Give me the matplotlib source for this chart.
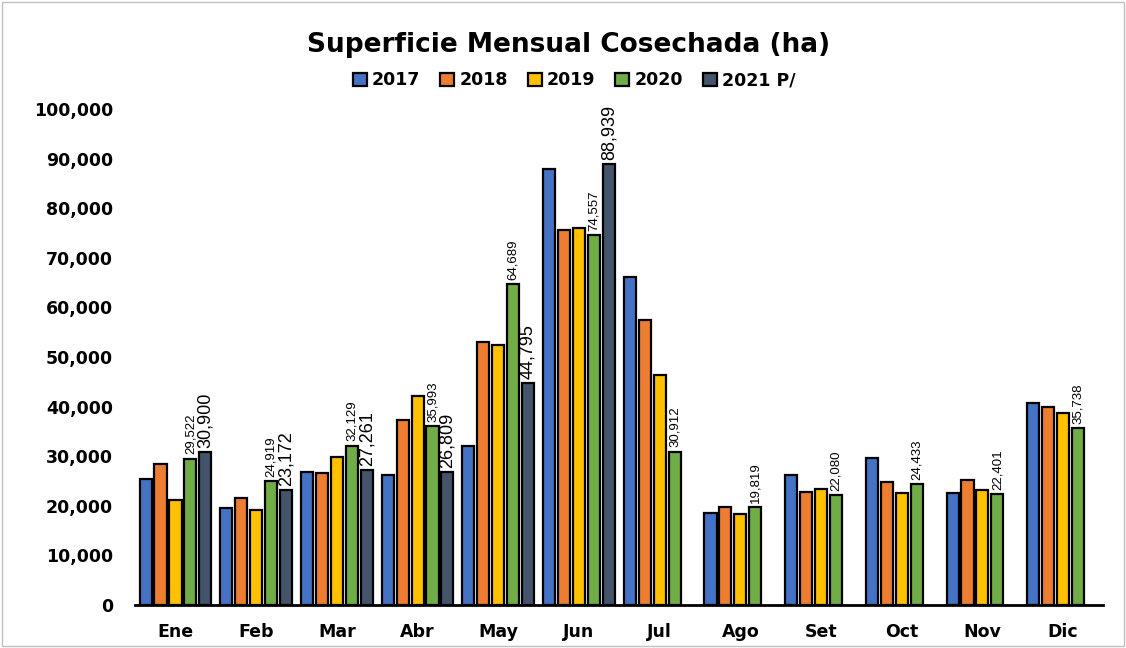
import numpy as np
import matplotlib
matplotlib.use("Agg")
import matplotlib.pyplot as plt
from matplotlib.patches import Rectangle
from matplotlib.ticker import FuncFormatter

months = ['Ene', 'Feb', 'Mar', 'Abr', 'May', 'Jun', 'Jul', 'Ago', 'Set', 'Oct', 'Nov', 'Dic']
years = ['2017', '2018', '2019', '2020', '2021 P/']
colors = ['#4472C4', '#ED7D31', '#FFC000', '#70AD47', '#44546A']

v2017 = [25350, 19600, 26870, 26220, 31980, 88000, 66090, 18580, 26180, 29700, 22650, 40660]
v2018 = [28450, 21610, 26650, 37240, 52940, 75700, 57400, 19740, 22780, 24800, 25270, 39850]
v2019 = [21180, 19090, 29820, 42140, 52510, 76000, 46350, 18370, 23350, 22650, 23250, 38710]
v2020 = [29522, 24919, 32129, 35993, 64689, 74557, 30912, 19819, 22080, 24433, 22401, 35738]
v2021 = [30900, 23172, 27261, 26809, 44795, 88939, np.nan, np.nan, np.nan, np.nan, np.nan, np.nan]

series = [v2017, v2018, v2019, v2020, v2021]
label_font = ['Liberation Sans', 'DejaVu Sans']

fig = plt.figure(figsize=(11.26, 6.48), dpi=100)
ax = fig.add_axes([0.12, 0.0664, 0.86, 0.7654])

x = np.arange(len(months))
w = 0.185
for i, (vals, c, lab) in enumerate(zip(series, colors, years)):
    pos = x + (i - 2) * w
    ax.bar(pos, vals, width=0.15, color=c, edgecolor='black', linewidth=1.6, label=lab)
    if i == 3:
        for p, v in zip(pos, vals):
            ax.annotate(f'{v:,}', (p, v), xytext=(0, 3), textcoords='offset points',
                        rotation=90, ha='center', va='bottom', fontsize=9.5, family=label_font)
    if i == 4:
        for p, v in zip(pos, vals):
            if np.isnan(v):
                continue
            ax.annotate(f'{int(v):,}', (p, v), xytext=(0, 3), textcoords='offset points',
                        rotation=90, ha='center', va='bottom', fontsize=13, family=label_font)

ax.set_xlim(-0.5, 11.5)
ax.set_ylim(0, 100000)
ax.set_yticks(np.arange(0, 100001, 10000))
ax.yaxis.set_major_formatter(FuncFormatter(lambda v, p: f'{int(v):,}'))
ax.set_xticks(x)
ax.set_xticklabels(months)
ax.tick_params(axis='both', length=0)
ax.tick_params(axis='x', pad=13)
ax.tick_params(axis='y', pad=16)
for t in ax.get_xticklabels() + ax.get_yticklabels():
    t.set_fontweight('bold')
    t.set_fontsize(12.5)
for s in ['top', 'right', 'left']:
    ax.spines[s].set_visible(False)
ax.spines['bottom'].set_linewidth(2)

fig.text(0.505, 0.93, 'Superficie Mensual Cosechada (ha)', ha='center', va='center',
         fontsize=19, fontweight='bold')
fig.legend(loc='center', bbox_to_anchor=(0.51, 0.876), ncol=5, frameon=False,
           prop={'weight': 'bold', 'size': 12.5}, handlelength=0.8, handleheight=0.8,
           handletextpad=0.3, columnspacing=1.15)

fig.patches.append(Rectangle((0.002, 0.003), 0.996, 0.994, transform=fig.transFigure,
                             fill=False, edgecolor='#c0c0c0', linewidth=1))

fig.savefig('out.png', dpi=100)
